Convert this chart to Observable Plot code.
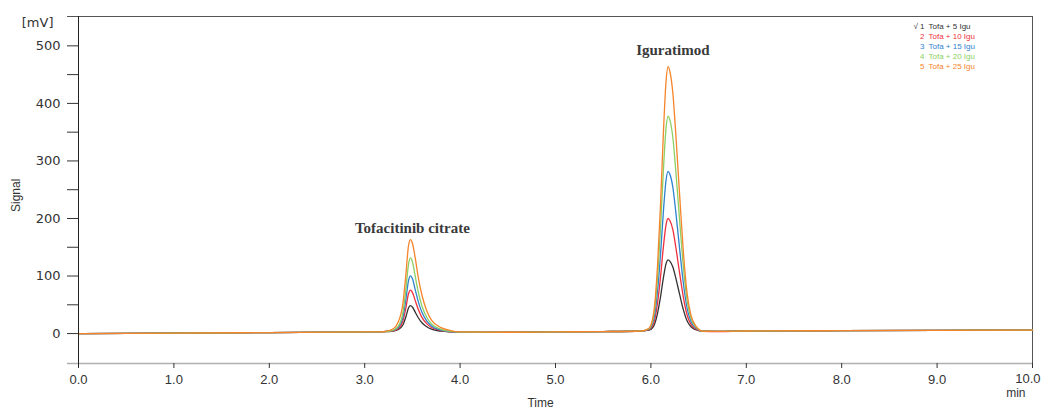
<!DOCTYPE html>
<html>
<head>
<meta charset="utf-8">
<script src="https://cdn.jsdelivr.net/npm/d3@7"></script>
<script src="https://cdn.jsdelivr.net/npm/@observablehq/plot@0.6"></script>
<style>
  html, body { margin: 0; padding: 0; background: #fff; }
  #chart svg { display: block; }
</style>
</head>
<body>
<div id="chart"></div>
<script>
// Retention time (min)
const times = [0, 1, 2, 3, 3.2, 3.3, 3.35, 3.4, 3.43, 3.46, 3.48, 3.5, 3.53, 3.56, 3.6, 3.65, 3.7, 3.8, 3.9, 4.0,
  4.5, 5.0, 5.5, 5.9, 5.98, 6.03, 6.07, 6.1, 6.13, 6.16, 6.18, 6.2, 6.23, 6.26, 6.3, 6.34, 6.38, 6.42, 6.47, 6.55,
  6.7, 7.0, 8.0, 9.0, 10.0];

// Signal (mV) per sample
const tofa5igu = [0, 0.8, 1.8, 2.8, 3.3, 4.4, 6.7, 14.8, 28.3, 44.8, 48.4, 46.1, 37, 27.9, 18.8, 11.8, 7.6, 4.1, 2.8, 2.2,
  2.3, 3.0, 3.5, 4.5, 5.9, 13.4, 35.7, 62.8, 96, 121.9, 128, 125.5, 115.7, 97.3, 68.9, 41.7, 21.8, 11.8, 6.7, 4.0,
  3.8, 4.5, 5.0, 5.5, 6.0];
const tofa10igu = [0, 0.8, 1.8, 2.8, 3.3, 4.9, 8.5, 21.5, 43.1, 69.6, 75.4, 71.7, 57.2, 42.7, 28.2, 17.2, 10.5, 5.2, 3.2, 2.4,
  2.3, 3.0, 3.5, 4.5, 6.7, 18.5, 53.7, 96.7, 149.3, 190.3, 200, 196.1, 180.5, 151.3, 106.3, 63.3, 31.9, 16.1, 8.1, 4.0,
  3.6, 4.5, 5.0, 5.5, 6.0];
const tofa15igu = [0, 0.8, 1.8, 2.8, 3.3, 5.4, 10.3, 27.8, 56.9, 92.6, 100.4, 95.5, 76, 56.5, 37, 22.2, 13.3, 6.2, 3.6, 2.5,
  2.1, 3.0, 3.5, 4.5, 7.5, 24.2, 74.2, 135.2, 210, 268.2, 282, 276.5, 254.3, 212.8, 148.9, 87.9, 43.4, 21, 9.7, 4.0,
  3.8, 4.5, 5.0, 5.5, 6.0];
const tofa20igu = [0, 0.8, 1.8, 2.8, 3.3, 6.1, 12.5, 35.5, 73.9, 121.2, 131.4, 124.9, 99.2, 73.5, 47.8, 28.4, 16.7, 7.4, 4, 2.6,
  2.3, 3.0, 3.5, 4.5, 8.4, 30.9, 98.2, 180.3, 281, 359.4, 378, 370.5, 340.7, 284.8, 198.9, 116.7, 56.8, 26.8, 11.7, 4.0,
  3.8, 4.5, 5.0, 5.5, 6.0];
const tofa25igu = [0, 0.8, 1.8, 2.8, 3.3, 8.3, 19.5, 51.5, 99.5, 153.8, 163.4, 156.9, 131.2, 99.1, 67, 39.6, 23.4, 10.3, 5.3, 3.1,
  2.3, 3.0, 3.5, 4.5, 9.3, 36.9, 119.7, 220.7, 344.7, 441, 464, 454.8, 418.1, 349.3, 243.6, 142.5, 68.9, 31.9, 13.4, 4.0,
  3.8, 4.5, 5.0, 5.5, 6.0];

const seriesNums = ["√ 1", "2", "3", "4", "5"];
const seriesNames = ["Tofa + 5 Igu", "Tofa + 10 Igu", "Tofa + 15 Igu", "Tofa + 20 Igu", "Tofa + 25 Igu"];
const seriesValues = [tofa5igu, tofa10igu, tofa15igu, tofa20igu, tofa25igu];
const seriesColors = ["#333333", "#f0303c", "#2f82cf", "#8ccf62", "#f5842a"];

const yMajorTicks = [0, 100, 200, 300, 400, 500];
const yMinorTicks = [50, 150, 250, 350, 450];
const xTicks = [0, 1, 2, 3, 4, 5, 6, 7, 8, 9, 10];
const xLastTick = [10];

const peakLabels = ["Tofacitinib citrate", "Iguratimod"];
const peakLabelTimes = [3.5, 6.23];
const peakLabelSignals = [183, 492];

const rows = seriesNames.flatMap((name, i) =>
  times.map((t, j) => ({series: name, idx: i, time: t, signal: seriesValues[i][j]})));
const annotations = peakLabels.map((text, i) => ({text, time: peakLabelTimes[i], signal: peakLabelSignals[i]}));

const legendMarks = seriesNames.flatMap((name, i) => [
  Plot.text([seriesNums[i]], {frameAnchor: "top-right", dx: -108, dy: 7 + i * 10, textAnchor: "end",
    fill: seriesColors[i], fontSize: 8, fontFamily: "Liberation Sans"}),
  Plot.text([name], {frameAnchor: "top-right", dx: -104, dy: 7 + i * 10, textAnchor: "start",
    fill: seriesColors[i], fontSize: 8, fontFamily: "Liberation Sans"})
]);

const fmt = d3.format(".1f");

const chart = Plot.plot({
  width: 1041,
  height: 410,
  marginLeft: 78,
  marginRight: 9,
  marginTop: 16,
  marginBottom: 47,
  style: {background: "#fff", fontFamily: "DejaVu Sans"},
  x: {domain: [0, 10]},
  y: {domain: [-52, 551]},
  color: {domain: seriesNames, range: seriesColors},
  marks: [
    Plot.ruleY([-52], {stroke: "#b0b0b0", strokeWidth: 1.5, insetLeft: -11}),
    Plot.ruleY([551], {stroke: "#555", strokeWidth: 1, insetLeft: -11}),
    Plot.ruleX([10], {stroke: "#555", strokeWidth: 1, insetBottom: -4}),
    Plot.axisY({ticks: yMajorTicks, tickSize: 11, tickPadding: 7, label: null, color: "#333",
      fontSize: 13, fontFamily: "DejaVu Sans"}),
    Plot.axisY({ticks: yMinorTicks, tickSize: 11, tickFormat: () => "", label: null, color: "#333"}),
    Plot.axisX({ticks: xTicks, tickSize: 5, tickPadding: 6, label: null, color: "#333",
      tickFormat: d => d === 10 ? "" : fmt(d), fontSize: 13, fontFamily: "Liberation Sans"}),
    Plot.text(xLastTick, {x: d => d, frameAnchor: "bottom", dy: 10, lineAnchor: "top", textAnchor: "end",
      dx: 8, text: d => fmt(d), fill: "#333", fontSize: 13, fontFamily: "Liberation Sans"}),
    Plot.lineY(rows, {x: "time", y: "signal", z: "series", stroke: "series", strokeWidth: 1.3,
      curve: "monotone-x"}),
    Plot.ruleX([0], {stroke: "#222", strokeWidth: 1, insetBottom: -4}),
    Plot.text(annotations, {x: "time", y: "signal", text: "text", fill: "#3a3a3a", fontSize: 15,
      fontWeight: "bold", fontFamily: "Liberation Serif"}),
    Plot.text(["[mV]"], {frameAnchor: "top-left", dx: -25, dy: 1, textAnchor: "end", fill: "#333",
      fontSize: 13, fontFamily: "DejaVu Sans"}),
    Plot.text(["Signal"], {frameAnchor: "left", dx: -62, dy: 22, rotate: -90, fill: "#333",
      fontSize: 12, fontFamily: "Liberation Sans"}),
    Plot.text(["min"], {frameAnchor: "bottom-right", dx: -7, dy: 25, lineAnchor: "top", fill: "#333",
      fontSize: 12, fontFamily: "Liberation Sans"}),
    Plot.text(["Time"], {frameAnchor: "bottom", dx: -15, dy: 43, fill: "#333",
      fontSize: 12, fontFamily: "Liberation Sans"}),
    ...legendMarks
  ]
});

document.getElementById("chart").appendChild(chart);
</script>
</body>
</html>
